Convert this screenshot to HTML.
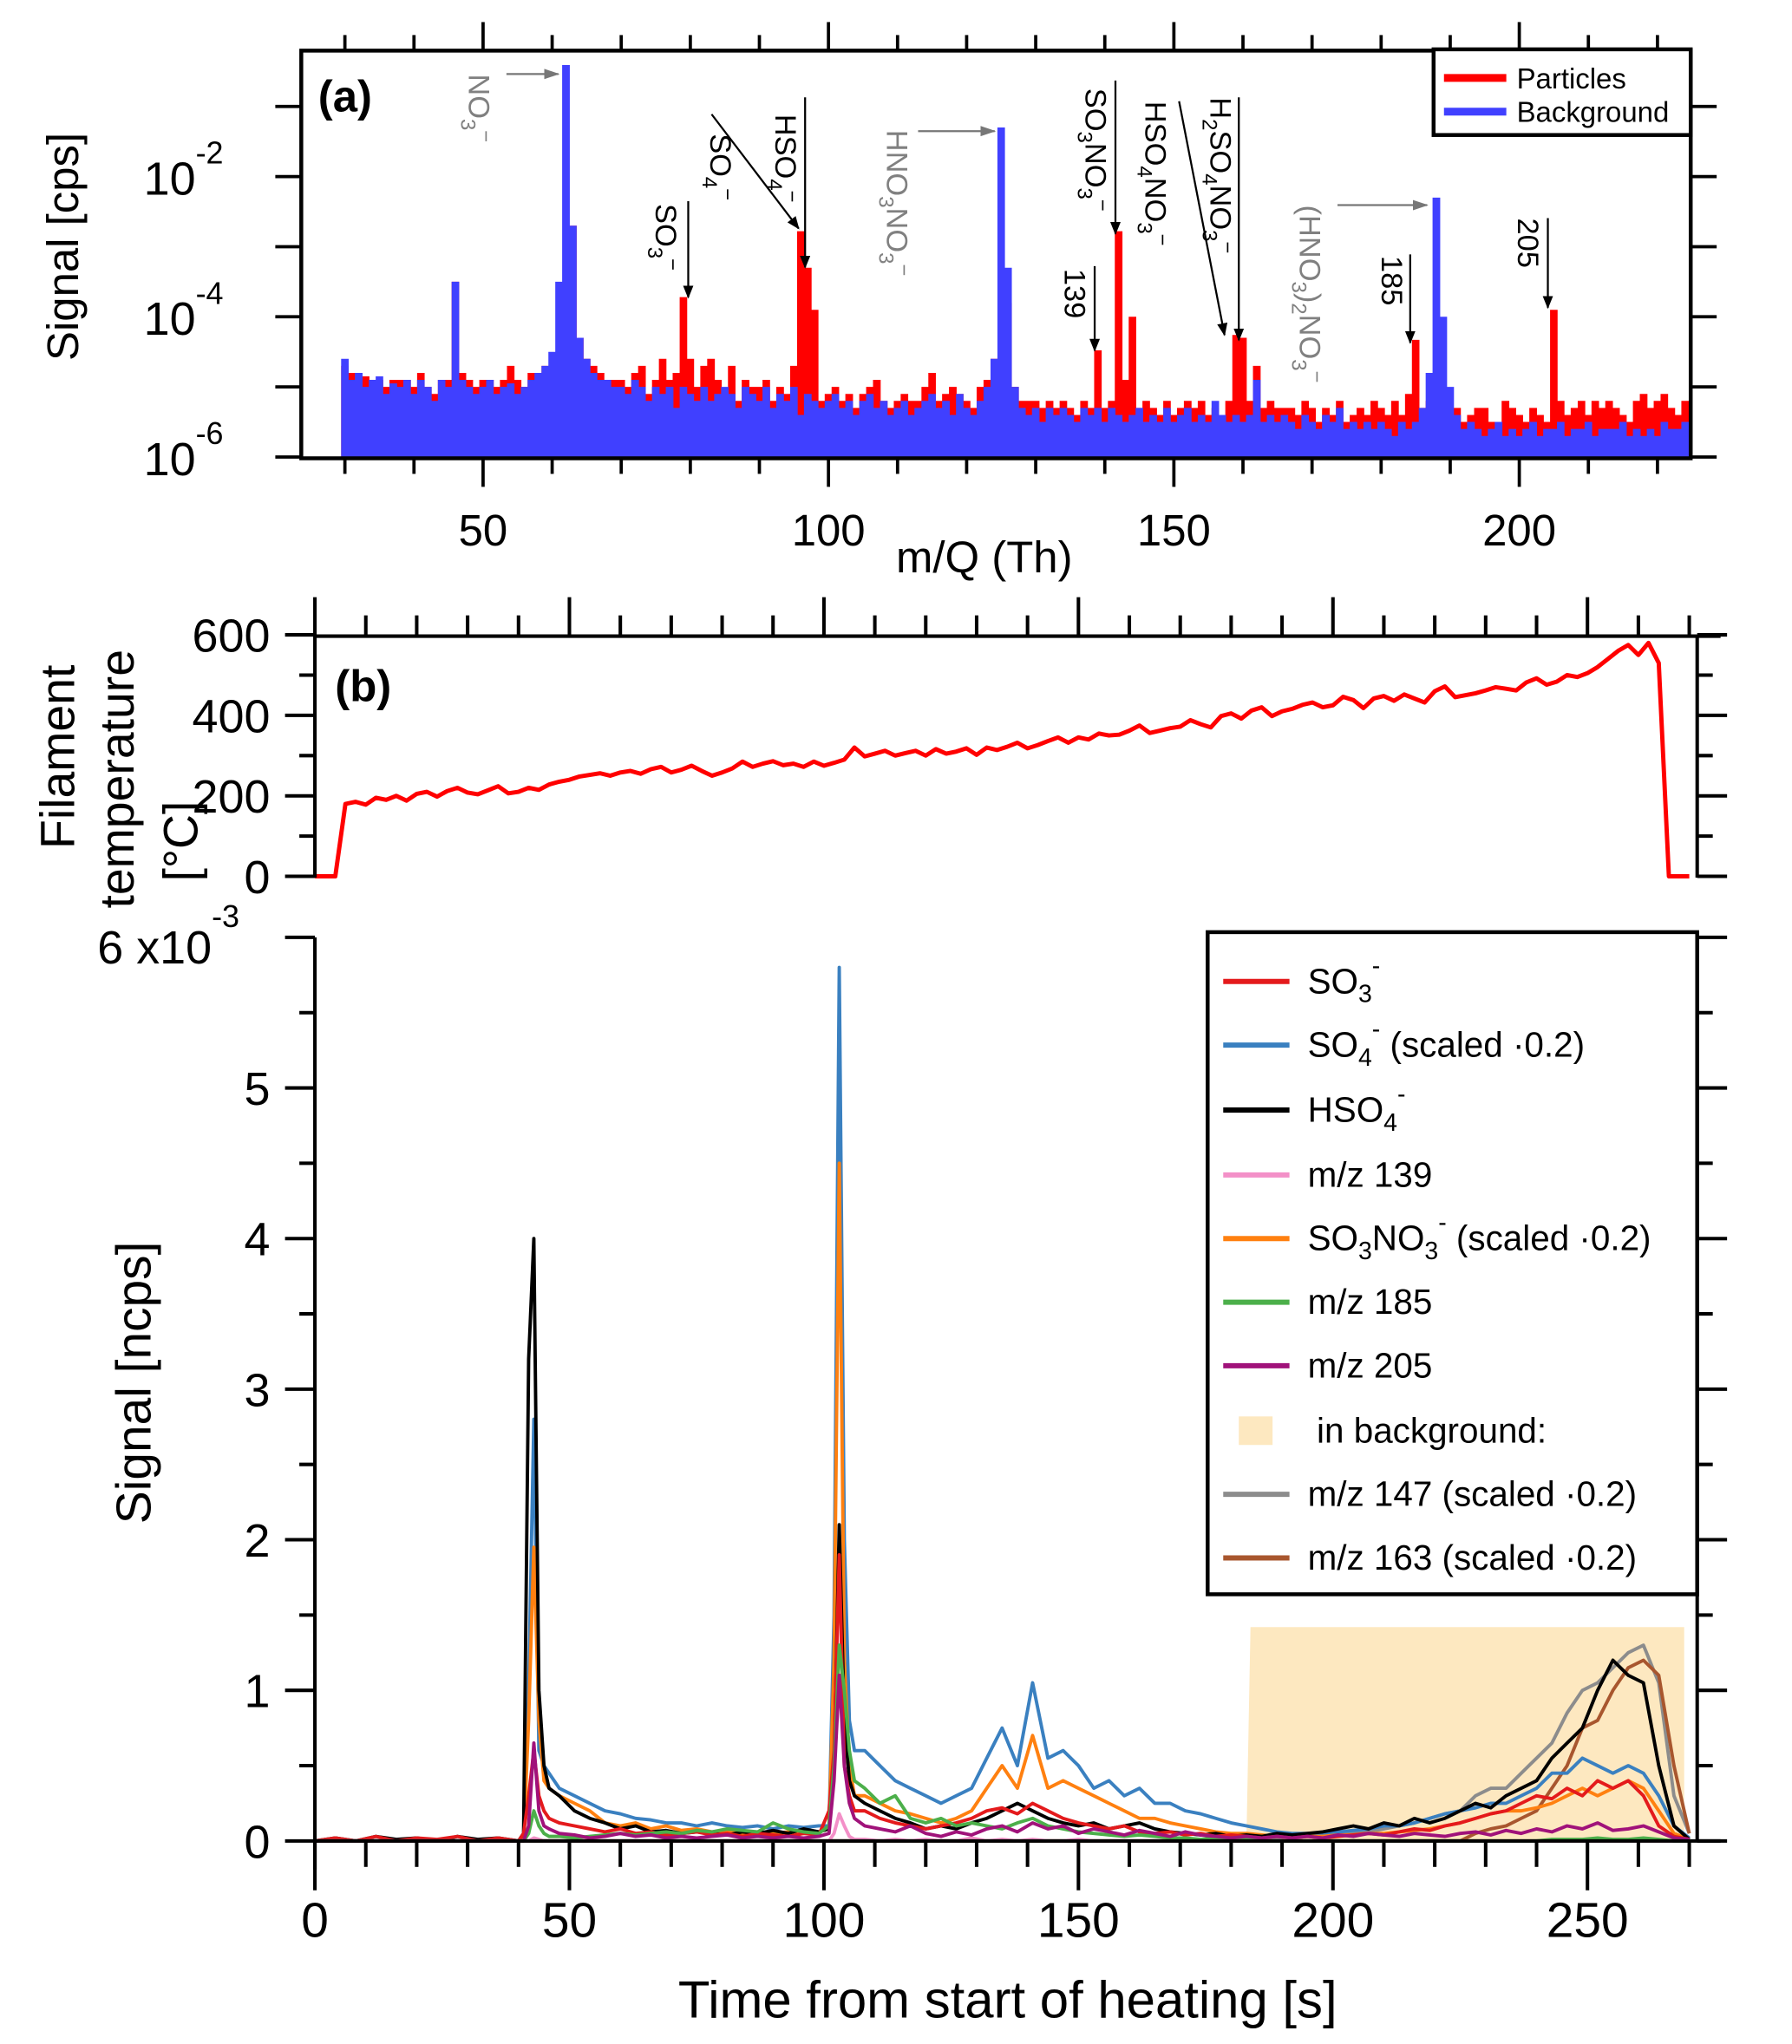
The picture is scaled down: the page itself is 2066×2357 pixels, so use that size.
<!DOCTYPE html>
<html><head><meta charset="utf-8"><style>
html,body{margin:0;padding:0;background:#fff}
svg{display:block}
text{font-family:"Liberation Sans",Arial,sans-serif}
</style></head><body>
<svg id="fig" xmlns="http://www.w3.org/2000/svg" width="2066" height="2357" viewBox="0 0 1380 1574.4">
<defs>
<marker id="ab" markerWidth="10" markerHeight="10" refX="9" refY="5" orient="auto" markerUnits="userSpaceOnUse" viewBox="0 0 10 10"><path d="M0,1 L10,5 L0,9 Z" fill="#000"/></marker>
<marker id="ag" markerWidth="12" markerHeight="10" refX="11" refY="5" orient="auto" markerUnits="userSpaceOnUse" viewBox="0 0 12 10"><path d="M0,1 L12,5 L0,9 Z" fill="#777"/></marker>
</defs>
<g id="pa"></g>
<g id="pb"></g>
</svg>
<script>
// ---------- Panel (a) data: log10 signal per integer m/Q starting at 30 ----------
const mzStart = 30;
const bgLog = [
-4.6,-4.9,-4.8,-5.0,-4.9,-4.85,-5.1,-4.95,-5.0,-4.9,
-5.1,-4.9,-5.0,-5.2,-4.9,-5.0,-3.5,-4.9,-5.0,-5.1,
-5.0,-4.9,-5.1,-5.0,-4.95,-5.1,-5.0,-4.9,-4.8,-4.7,
-4.5,-3.5,-0.41,-2.7,-4.3,-4.6,-4.8,-4.9,-4.9,-5.0,
-5.0,-5.1,-4.9,-5.0,-5.2,-5.0,-5.1,-5.0,-5.3,-5.0,
-5.1,-5.2,-5.0,-5.2,-5.1,-5.0,-5.1,-5.3,-5.0,-5.1,
-5.2,-5.0,-5.3,-5.1,-5.2,-5.0,-5.4,-5.1,-5.2,-5.3,
-5.2,-5.1,-5.3,-5.2,-5.4,-5.2,-5.1,-5.3,-5.2,-5.4,
-5.3,-5.2,-5.4,-5.3,-5.2,-5.1,-5.3,-5.2,-5.4,-5.1,
-5.3,-5.4,-5.2,-5.0,-4.6,-1.3,-3.3,-5.0,-5.3,-5.4,
-5.3,-5.5,-5.3,-5.4,-5.3,-5.4,-5.5,-5.3,-5.4,-5.3,
-5.5,-5.3,-5.4,-5.5,-5.4,-5.3,-5.5,-5.4,-5.5,-5.3,
-5.5,-5.4,-5.3,-5.5,-5.4,-5.5,-5.2,-5.4,-5.5,-5.4,
-5.5,-5.4,-4.9,-5.5,-5.4,-5.5,-5.4,-5.5,-5.6,-5.4,
-5.5,-5.6,-5.4,-5.5,-5.3,-5.6,-5.5,-5.6,-5.5,-5.6,
-5.5,-5.6,-5.7,-5.5,-5.6,-5.5,-5.3,-4.8,-2.3,-4.0,
-5.0,-5.4,-5.6,-5.5,-5.6,-5.7,-5.6,-5.5,-5.7,-5.6,
-5.7,-5.6,-5.5,-5.7,-5.6,-5.6,-5.5,-5.7,-5.6,-5.6,
-5.5,-5.7,-5.6,-5.6,-5.6,-5.5,-5.7,-5.6,-5.7,-5.6,
-5.7,-5.5,-5.6,-5.6,-5.5];
const ptLog = [
-4.7,-4.8,-4.9,-4.85,-4.9,-4.9,-5.0,-4.9,-4.9,-4.9,
-5.0,-4.8,-5.0,-5.1,-4.9,-4.9,-3.5,-4.8,-4.9,-5.0,
-4.9,-4.9,-5.0,-4.9,-4.7,-4.9,-5.0,-4.8,-4.8,-4.7,
-6.0,-6.0,-6.0,-2.7,-4.3,-4.6,-4.7,-4.8,-4.9,-4.9,
-4.9,-5.0,-4.8,-4.7,-5.1,-4.9,-4.6,-4.9,-4.8,-3.72,
-4.6,-5.0,-4.7,-4.6,-4.9,-5.1,-4.7,-5.2,-4.9,-5.0,
-5.0,-4.9,-5.2,-5.0,-5.1,-4.7,-2.78,-3.3,-3.9,-5.2,
-5.1,-5.0,-5.2,-5.1,-5.3,-5.1,-5.0,-4.9,-5.2,-5.3,
-5.2,-5.1,-5.2,-5.2,-5.0,-4.8,-5.2,-5.1,-5.0,-5.1,
-5.2,-5.3,-5.0,-4.9,-4.6,-6.0,-3.8,-5.0,-5.2,-5.2,
-5.2,-5.3,-5.2,-5.3,-5.2,-5.3,-5.4,-5.2,-5.3,-4.48,
-5.3,-5.2,-2.78,-4.9,-4.0,-5.3,-5.2,-5.3,-5.4,-5.2,
-5.4,-5.3,-5.2,-5.3,-5.2,-5.4,-5.3,-5.4,-5.2,-4.26,
-4.3,-5.2,-4.7,-5.3,-5.2,-5.3,-5.3,-5.3,-5.4,-5.2,
-5.3,-5.5,-5.3,-5.4,-5.2,-5.5,-5.4,-5.3,-5.4,-5.2,
-5.3,-5.4,-5.2,-5.4,-5.1,-4.33,-5.3,-5.2,-5.9,-5.9,
-5.4,-5.3,-5.5,-5.4,-5.3,-5.3,-5.5,-5.6,-5.2,-5.3,
-5.4,-5.5,-5.3,-5.4,-5.5,-3.9,-5.2,-5.4,-5.3,-5.2,
-5.4,-5.2,-5.3,-5.2,-5.3,-5.4,-5.5,-5.2,-5.1,-5.3,
-5.2,-5.1,-5.3,-5.4,-5.2];
const aXTicks = [50,100,150,200];
const aYTicks = [-6,-4,-2];

// ---------- Panel (b) temperature (every 2 s from 0) ----------
const tempStep = 2;
const tempVals = [0,0,0,180,
185,178,195,190,200,188,205,210,198,212,220,208,204,214,224,206,210,220,215,228,235,
240,248,252,256,250,258,262,255,266,272,258,265,275,262,250,258,268,285,272,280,286,276,280,272,285,
275,282,290,320,298,305,312,300,306,312,300,316,305,310,318,302,320,314,322,332,318,326,336,345,332,
345,340,355,350,352,362,375,356,362,368,372,388,378,370,398,405,392,412,420,398,410,416,426,432,420,
425,446,438,418,442,448,436,452,442,432,460,472,445,450,455,462,470,466,462,482,492,476,484,500,495,
505,520,540,560,575,550,580,530,
0,0,0];
const tempTicks = [0,200,400,600];

// ---------- Signal time series ----------
const times = [0,4,8,12,16,20,24,28,32,36,40, 41,42,43,44,45,46,
48,51,54,57,60,63,66,69,72,75,78,81,84,87,90,93,96,99, 101,102,103,104,105,106,
108,111,114,117,120,123,126,129,132,135,138,141,144,147,150,153,156,159,162,165,168,171,174,177,180,183,186,189,192,195,198,201,204,207,210,213,216,219,222,225,228,231,234,237,240,243,246,249,252,255,258,261,264,267,270];
const so3 = [0,0.02,0,0.03,0,0.02,0.01,0.03,0,0.02,0, 0.05,0.3,0.6,0.3,0.2,0.15,
0.12,0.1,0.08,0.06,0.08,0.05,0.06,0.04,0.05,0.06,0.04,0.05,0.03,0.05,0.04,0.03,0.05,0.04, 0.2,0.6,1.9,0.5,0.3,0.2,
0.2,0.15,0.12,0.1,0.08,0.1,0.12,0.15,0.2,0.22,0.18,0.25,0.2,0.15,0.12,0.1,0.08,0.1,0.06,0.05,0.06,0.04,0.05,0.03,0.04,0.03,0.02,0.03,0.02,0.03,0.02,0.03,0.04,0.05,0.04,0.06,0.08,0.07,0.1,0.12,0.15,0.18,0.2,0.25,0.3,0.28,0.35,0.3,0.4,0.35,0.4,0.3,0.1,0.03,0.01];
const so4 = [0,0,0,0,0,0,0,0,0,0,0, 0,1.0,2.8,0.6,0.5,0.45,
0.35,0.3,0.25,0.2,0.18,0.15,0.14,0.12,0.12,0.1,0.12,0.1,0.09,0.1,0.08,0.1,0.09,0.1, 0.1,1.5,5.8,2.0,0.8,0.6,
0.6,0.5,0.4,0.35,0.3,0.25,0.3,0.35,0.55,0.75,0.5,1.05,0.55,0.6,0.5,0.35,0.4,0.3,0.35,0.25,0.25,0.2,0.18,0.15,0.12,0.1,0.08,0.06,0.05,0.05,0.05,0.06,0.07,0.08,0.1,0.1,0.12,0.15,0.18,0.2,0.22,0.25,0.25,0.3,0.35,0.45,0.45,0.55,0.5,0.45,0.5,0.45,0.3,0.1,0.02];
const hso4 = [0,0.02,0,0.03,0.01,0.02,0,0.03,0.01,0.02,0, 0.05,3.2,4.0,1.0,0.5,0.35,
0.3,0.2,0.15,0.12,0.08,0.1,0.06,0.07,0.05,0.06,0.05,0.04,0.06,0.05,0.07,0.05,0.08,0.06, 0.08,0.5,2.1,0.8,0.4,0.3,
0.25,0.2,0.15,0.12,0.08,0.1,0.08,0.12,0.15,0.2,0.25,0.2,0.15,0.12,0.1,0.12,0.08,0.1,0.12,0.08,0.06,0.05,0.04,0.05,0.03,0.04,0.03,0.05,0.04,0.05,0.06,0.08,0.1,0.08,0.12,0.1,0.15,0.12,0.15,0.2,0.25,0.22,0.3,0.35,0.4,0.55,0.65,0.75,1.0,1.2,1.1,1.05,0.5,0.1,0.01];
const mz139 = [0,0,0,0,0,0,0,0,0,0,0, 0,0,0.02,0.01,0,0,
0,0,0,0,0,0,0,0,0,0,0,0,0,0,0,0,0,0, 0,0.05,0.18,0.1,0.03,0.01,
0.01,0,0.01,0,0.01,0,0,0.02,0,0.01,0,0.01,0,0,0.01,0,0,0,0,0,0,0,0,0,0,0,0,0,0,0,0,0,0,0,0,0,0,0,0,0,0,0,0,0,0,0,0,0,0,0,0,0,0,0,0];
const so3no3 = [0,0,0,0,0,0,0,0,0,0,0, 0,0.8,1.95,0.8,0.4,0.35,
0.3,0.25,0.2,0.12,0.1,0.12,0.08,0.1,0.07,0.08,0.06,0.07,0.05,0.06,0.05,0.06,0.05,0.06, 0.08,1.2,4.5,1.2,0.5,0.3,
0.3,0.25,0.2,0.18,0.15,0.12,0.15,0.2,0.35,0.5,0.35,0.7,0.35,0.4,0.35,0.3,0.25,0.2,0.15,0.15,0.12,0.1,0.08,0.06,0.05,0.05,0.04,0.03,0.03,0.03,0.03,0.04,0.04,0.05,0.05,0.06,0.07,0.08,0.1,0.12,0.15,0.18,0.2,0.2,0.22,0.25,0.3,0.35,0.3,0.35,0.4,0.35,0.2,0.05,0.01];
const mz185 = [0,0,0,0,0,0,0,0,0,0,0, 0,0.05,0.2,0.1,0.05,0.03,
0.03,0.02,0.03,0.04,0.05,0.04,0.05,0.06,0.05,0.07,0.06,0.08,0.07,0.06,0.12,0.08,0.06,0.05, 0.1,0.5,1.3,1.0,0.6,0.4,
0.35,0.25,0.3,0.15,0.12,0.15,0.1,0.12,0.1,0.08,0.12,0.15,0.1,0.08,0.06,0.05,0.04,0.03,0.04,0.03,0.02,0.02,0.01,0.02,0.01,0.01,0,0,0,0,0,0,0,0,0,0,0,0,0,0,0,0,0,0,0,0.01,0.01,0.01,0.02,0.01,0.01,0.02,0.01,0,0];
const mz205 = [0,0,0,0,0,0,0,0,0,0,0, 0,0.1,0.65,0.2,0.1,0.08,
0.05,0.04,0.02,0.03,0.05,0.03,0.04,0.02,0.03,0.02,0.03,0.04,0.02,0.03,0.02,0.03,0.02,0.03, 0.05,0.4,1.1,0.5,0.25,0.15,
0.1,0.08,0.06,0.1,0.05,0.03,0.06,0.04,0.08,0.1,0.06,0.12,0.08,0.1,0.05,0.08,0.06,0.04,0.07,0.05,0.03,0.06,0.04,0.03,0.02,0.03,0.02,0.03,0.02,0.03,0.02,0.04,0.03,0.05,0.04,0.03,0.05,0.04,0.03,0.05,0.06,0.04,0.07,0.05,0.08,0.06,0.1,0.08,0.12,0.07,0.08,0.1,0.06,0.02,0.01];
const mz147 = [0,0,0,0,0,0,0,0,0,0,0, 0,0,0,0,0,0,
0,0,0,0,0,0,0,0,0,0,0,0,0,0,0,0,0,0, 0,0,0,0,0,0,
0,0,0,0,0,0,0,0,0,0,0,0,0,0,0,0,0,0,0,0,0,0,0,0,0,0,0,0.02,0.03,0.03,0.04,0.05,0.05,0.06,0.08,0.1,0.12,0.15,0.18,0.2,0.3,0.35,0.35,0.45,0.55,0.65,0.85,1.0,1.05,1.15,1.25,1.3,1.05,0.3,0.05];
const mz163 = [0,0,0,0,0,0,0,0,0,0,0, 0,0,0,0,0,0,
0,0,0,0,0,0,0,0,0,0,0,0,0,0,0,0,0,0, 0,0,0,0,0,0,
0,0,0,0,0,0,0,0,0,0,0,0,0,0,0,0,0,0,0,0,0,0,0,0,0,0,0,0,0,0,0,0,0,0,0,0,0,0,0,0,0.05,0.08,0.1,0.15,0.2,0.35,0.5,0.75,0.8,1.0,1.15,1.2,1.1,0.5,0.05];
const bgRegion = [183, 269, 1.42];
const sigTicks = [0,1,2,3,4,5];
const timeTicks = [0,50,100,150,200,250];

// ---------- helpers ----------
const NS = "http://www.w3.org/2000/svg";
function mk(tag, attrs, parent){ const e=document.createElementNS(NS,tag); for(const k in attrs) e.setAttribute(k,attrs[k]); parent.appendChild(e); return e; }
const pa = document.getElementById('pa'), pb = document.getElementById('pb');

// axis functions
const xa = m => 372 + (m-50)*5.32;
const ya = lg => 352 - (lg+6)*54;
const xt = t => 242.5 + t*3.92;
const yT = v => 675 - v*0.31;
const yS = v => 1418 - v*116;

// ===== Panel (a) =====
function drawSpec(arr, color, name){
  const g = mk('g',{},pa);
  
  
  let d='';
  arr.forEach((lg,i)=>{
    if(lg<=-5.99) return;
    const m=mzStart+i, x0=xa(m-0.55), x1=xa(m+0.55), y=ya(lg);
    d+=`M${x0.toFixed(1)},352 L${x0.toFixed(1)},${y.toFixed(1)} L${x1.toFixed(1)},${y.toFixed(1)} L${x1.toFixed(1)},352 Z `;
  });
  const p = mk('path',{d:d,fill:color,stroke:'none'},g);
  
  
}
drawSpec(ptLog,'#ff0000','particles-spectrum');
drawSpec(bgLog,'#4040ff','background-spectrum');

// frame
mk('rect',{x:232,y:39,width:1070,height:314,fill:'none',stroke:'#000','stroke-width':3},pa);
// x ticks
for(let m=30;m<=220;m+=10){
  const x=xa(m), L=(m%50===0)?22:12;
  mk('line',{x1:x,x2:x,y1:353,y2:353+L,stroke:'#000','stroke-width':2.5},pa);
  mk('line',{x1:x,x2:x,y1:39,y2:39-L,stroke:'#000','stroke-width':2.5},pa);
}
aXTicks.forEach(m=>{
  const t=mk('text',{x:xa(m),y:420,'font-size':34,'text-anchor':'middle'},pa); t.textContent=m;
   
});
for(let lg=-6;lg<=-1;lg++){
  const y=ya(lg);
  mk('line',{x1:232,x2:212,y1:y,y2:y,stroke:'#000','stroke-width':2.5},pa);
  mk('line',{x1:1302,x2:1322,y1:y,y2:y,stroke:'#000','stroke-width':2.5},pa);
}
aYTicks.forEach(lg=>{
  const y=ya(lg);
  const t=mk('text',{x:172,y:y+14,'font-size':36,'text-anchor':'end'},pa);
   
  t.innerHTML='10<tspan font-size="24" dy="-24">'+lg+'</tspan>';
});
</script>
<script>
// annotations / labels panel a (static)
(function(){
  const pa=document.getElementById('pa');
  const NS="http://www.w3.org/2000/svg";
  pa.insertAdjacentHTML('beforeend', `
  <text x="245" y="86" font-size="34" font-weight="bold">(a)</text>
  <text transform="translate(60,190) rotate(-90)" font-size="34" text-anchor="middle">Signal [cps]</text>
  <text x="758" y="441" font-size="34" text-anchor="middle">m/Q (Th)</text>
  <g>
    <rect x="1104" y="38" width="198" height="66" fill="#fff" stroke="#000" stroke-width="3"/>
    <line x1="1112" x2="1160" y1="60" y2="60" stroke="#ff0000" stroke-width="6"/>
    <text x="1168" y="68" font-size="22">Particles</text>
    <line x1="1112" x2="1160" y1="86" y2="86" stroke="#4040ff" stroke-width="6"/>
    <text x="1168" y="94" font-size="22">Background</text>
  </g>
  <g font-size="23">
    <g fill="#808080">
    <text transform="translate(361,57) rotate(90)">NO<tspan dy="6" font-size="16">3</tspan><tspan dy="-14" font-size="16">−</tspan></text>
    <text transform="translate(683,100) rotate(90)">HNO<tspan dy="6" font-size="16">3</tspan><tspan dy="-6">NO</tspan><tspan dy="6" font-size="16">3</tspan><tspan dy="-14" font-size="16">−</tspan></text>
    <text transform="translate(1001,158) rotate(90)">(HNO<tspan dy="6" font-size="16">3</tspan><tspan dy="-6">)</tspan><tspan dy="6" font-size="16">2</tspan><tspan dy="-6">NO</tspan><tspan dy="6" font-size="16">3</tspan><tspan dy="-14" font-size="16">−</tspan></text>
    </g>
    <text transform="translate(505,157) rotate(90)">SO<tspan dy="6" font-size="16">3</tspan><tspan dy="-14" font-size="16">−</tspan></text>
    <text transform="translate(547,103) rotate(90)">SO<tspan dy="6" font-size="16">4</tspan><tspan dy="-14" font-size="16">−</tspan></text>
    <text transform="translate(597,88) rotate(90)">HSO<tspan dy="6" font-size="16">4</tspan><tspan dy="-14" font-size="16">−</tspan></text>
    <text transform="translate(836,68) rotate(90)">SO<tspan dy="6" font-size="16">3</tspan><tspan dy="-6">NO</tspan><tspan dy="6" font-size="16">3</tspan><tspan dy="-14" font-size="16">−</tspan></text>
    <text transform="translate(882,78) rotate(90)">HSO<tspan dy="6" font-size="16">4</tspan><tspan dy="-6">NO</tspan><tspan dy="6" font-size="16">3</tspan><tspan dy="-14" font-size="16">−</tspan></text>
    <text transform="translate(932,75) rotate(90)">H<tspan dy="6" font-size="16">2</tspan><tspan dy="-6">SO</tspan><tspan dy="6" font-size="16">4</tspan><tspan dy="-6">NO</tspan><tspan dy="6" font-size="16">3</tspan><tspan dy="-14" font-size="16">−</tspan></text>
    <text transform="translate(820,207) rotate(90)">139</text>
    <text transform="translate(1064,197) rotate(90)">185</text>
    <text transform="translate(1169,168) rotate(90)">205</text>
  </g>
  <g stroke-width="1.5">
    <line x1="390" y1="57" x2="430" y2="57" stroke="#777" marker-end="url(#ag)"/>
    <line x1="707" y1="101" x2="766" y2="101" stroke="#777" marker-end="url(#ag)"/>
    <line x1="1030" y1="158" x2="1099" y2="158" stroke="#777" marker-end="url(#ag)"/>
    <line x1="530" y1="155" x2="530" y2="229" stroke="#000" marker-end="url(#ab)"/>
    <line x1="548" y1="88" x2="615" y2="176" stroke="#000" marker-end="url(#ab)"/>
    <line x1="620" y1="75" x2="620" y2="206" stroke="#000" marker-end="url(#ab)"/>
    <line x1="859" y1="62" x2="859" y2="180" stroke="#000" marker-end="url(#ab)"/>
    <line x1="908" y1="78" x2="943" y2="258" stroke="#000" marker-end="url(#ab)"/>
    <line x1="954" y1="75" x2="954" y2="262" stroke="#000" marker-end="url(#ab)"/>
    <line x1="843" y1="205" x2="843" y2="270" stroke="#000" marker-end="url(#ab)"/>
    <line x1="1086" y1="196" x2="1086" y2="264" stroke="#000" marker-end="url(#ab)"/>
    <line x1="1192" y1="168" x2="1192" y2="237" stroke="#000" marker-end="url(#ab)"/>
  </g>`);
})();
</script>
<script>
// ===== Panel (b) =====
const XR = 1307;
// background shaded region
const shade = mk('polygon',{points:`${xt(bgRegion[0])},${yS(0)} ${xt(bgRegion[0]+0.8)},${yS(bgRegion[2])} ${xt(bgRegion[1])},${yS(bgRegion[2])} ${xt(bgRegion[1])},${yS(0)}`,fill:'#fde8c0'},pb);



// temperature
let td='';
tempVals.forEach((v,i)=>{ td += (i?'L':'M')+xt(i*tempStep).toFixed(1)+','+yT(v).toFixed(1)+' '; });
const tl = mk('path',{d:td,fill:'none',stroke:'#ff0000','stroke-width':3.3,'stroke-linejoin':'round'},pb);



// signal series
const series = [
  ['mz147-line', mz147, '#8c8c8c'],
  ['mz163-line', mz163, '#a8562e'],
  ['so4-line', so4, '#3a80c0'],
  ['so3no3-line', so3no3, '#ff8010'],
  ['hso4-line', hso4, '#000000'],
  ['so3-line', so3, '#e41a1c'],
  ['mz139-line', mz139, '#f390c8'],
  ['mz185-line', mz185, '#4caf4a'],
  ['mz205-line', mz205, '#a0127a']
];
series.forEach(([name, arr, col])=>{
  let d=''; const n=Math.min(arr.length,times.length);
  for(let i=0;i<n;i++) d += (i?'L':'M')+xt(times[i]).toFixed(1)+','+yS(arr[i]).toFixed(1)+' ';
  const p = mk('path',{d:d,fill:'none',stroke:col,'stroke-width':2.6,'stroke-linejoin':'round'},pb);
  
  
});

// axes: temperature panel
const ax = {stroke:'#000','stroke-width':2.7};
mk('line',Object.assign({x1:242.5,x2:1325,y1:490,y2:490},ax),pb);
mk('line',Object.assign({x1:242.5,x2:242.5,y1:490,y2:676},ax),pb);
mk('line',Object.assign({x1:XR,x2:XR,y1:490,y2:676},ax),pb);
for(let t=0;t<=270;t+=10){
  const L=(t%50===0)?30:16;
  mk('line',Object.assign({x1:xt(t),x2:xt(t),y1:490,y2:490-L},ax),pb);
}
for(let v=0;v<=600;v+=100){
  const L=(v%200===0)?23:12;
  mk('line',Object.assign({x1:242.5,x2:242.5-L,y1:yT(v),y2:yT(v)},ax),pb);
  mk('line',Object.assign({x1:XR,x2:XR+L,y1:yT(v),y2:yT(v)},ax),pb);
}
tempTicks.forEach(v=>{
  const t=mk('text',{x:208,y:yT(v)+13,'font-size':36,'text-anchor':'end'},pb); t.textContent=v;
   
});
// axes: signal panel
mk('line',Object.assign({x1:242.5,x2:242.5,y1:722,y2:1440},ax),pb);
mk('line',Object.assign({x1:242.5,x2:1325,y1:1418,y2:1418},ax),pb);
mk('line',Object.assign({x1:XR,x2:XR,y1:722,y2:1418},ax),pb);
for(let t=0;t<=270;t+=10){
  const L=(t%50===0)?38:20;
  mk('line',Object.assign({x1:xt(t),x2:xt(t),y1:1418,y2:1418+L},ax),pb);
}
for(let v=0;v<=6.001;v+=0.5){
  const L=(Math.abs(v-Math.round(v))<0.01)?23:12;
  mk('line',Object.assign({x1:242.5,x2:242.5-L,y1:yS(v),y2:yS(v)},ax),pb);
  mk('line',Object.assign({x1:XR,x2:XR+L,y1:yS(v),y2:yS(v)},ax),pb);
}
sigTicks.forEach(v=>{
  const t=mk('text',{x:208,y:yS(v)+13,'font-size':36,'text-anchor':'end'},pb); t.textContent=v;
   
});
timeTicks.forEach(v=>{
  const t=mk('text',{x:xt(v),y:1492,'font-size':38,'text-anchor':'middle'},pb); t.textContent=v;
   
});
pb.insertAdjacentHTML('beforeend', `
<text x="258" y="540" font-size="34" font-weight="bold">(b)</text>
<text x="75" y="742" font-size="36">6 x10<tspan font-size="24" dy="-28">-3</tspan></text>
<g font-size="37">
 <text transform="translate(57,583) rotate(-90)" text-anchor="middle">Filament</text>
 <text transform="translate(103,600) rotate(-90)" text-anchor="middle">temperature</text>
 <text transform="translate(152,648) rotate(-90)" text-anchor="middle">[°C]</text>
</g>
<text transform="translate(116,1065) rotate(-90)" font-size="38" text-anchor="middle">Signal [ncps]</text>
<text x="776" y="1554" font-size="40" text-anchor="middle">Time from start of heating [s]</text>
<g font-size="27">
 <rect x="930" y="718" width="377" height="510" fill="#fff" stroke="#000" stroke-width="3"/>
 <line x1="942" x2="993" y1="756" y2="756" stroke="#e41a1c" stroke-width="4"/>
 <text x="1007" y="765">SO<tspan font-size="19" dy="7">3</tspan><tspan font-size="19" dy="-22">-</tspan></text>
 <line x1="942" x2="993" y1="805" y2="805" stroke="#3a80c0" stroke-width="4"/>
 <text x="1007" y="814">SO<tspan font-size="19" dy="7">4</tspan><tspan font-size="19" dy="-22">-</tspan><tspan dy="15"> (scaled ·0.2)</tspan></text>
 <line x1="942" x2="993" y1="855" y2="855" stroke="#000" stroke-width="4"/>
 <text x="1007" y="864">HSO<tspan font-size="19" dy="7">4</tspan><tspan font-size="19" dy="-22">-</tspan></text>
 <line x1="942" x2="993" y1="905" y2="905" stroke="#f390c8" stroke-width="4"/>
 <text x="1007" y="914">m/z 139</text>
 <line x1="942" x2="993" y1="954" y2="954" stroke="#ff8010" stroke-width="4"/>
 <text x="1007" y="963">SO<tspan font-size="19" dy="7">3</tspan><tspan dy="-7">NO</tspan><tspan font-size="19" dy="7">3</tspan><tspan font-size="19" dy="-22">-</tspan><tspan dy="15"> (scaled ·0.2)</tspan></text>
 <line x1="942" x2="993" y1="1003" y2="1003" stroke="#4caf4a" stroke-width="4"/>
 <text x="1007" y="1012">m/z 185</text>
 <line x1="942" x2="993" y1="1052" y2="1052" stroke="#a0127a" stroke-width="4"/>
 <text x="1007" y="1061">m/z 205</text>
 <rect x="954" y="1091" width="26" height="22" fill="#fde8c0"/>
 <text x="1014" y="1111">in background:</text>
 <line x1="942" x2="993" y1="1151" y2="1151" stroke="#8c8c8c" stroke-width="4"/>
 <text x="1007" y="1160">m/z 147 (scaled ·0.2)</text>
 <line x1="942" x2="993" y1="1200" y2="1200" stroke="#a8562e" stroke-width="4"/>
 <text x="1007" y="1209">m/z 163 (scaled ·0.2)</text>
</g>`);
</script>
</body></html>
